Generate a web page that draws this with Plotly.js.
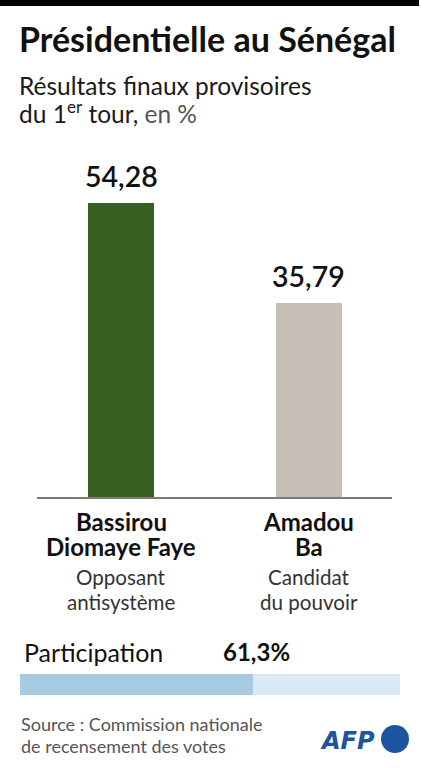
<!DOCTYPE html>
<html>
<head>
<meta charset="utf-8">
<script src="https://cdn.plot.ly/plotly-3.0.1.min.js"></script>
<style>html,body{margin:0;padding:0;background:#fff;}#chart{width:421px;height:768px;}</style>
</head>
<body>
<div id="chart"></div>
<script>
// ---- data ----
const candidates = ["Bassirou<br>Diomaye Faye", "Amadou<br>Ba"];
const descriptions = ["Opposant<br>antisystème", "Candidat<br>du pouvoir"];
const results = [54.28, 35.79];
const barColors = ["#3a6021", "#c5bfb5"];
const participationLabel = "Participation";
const participation = [61.3];
const participationTotal = [100];
const titleText = "Présidentielle au Sénégal";
const subtitleLines = ["Résultats finaux provisoires", "du 1<sup>er</sup> tour,<span style='color:#555'> en %</span>"];
const sourceLines = ["Source : Commission nationale", "de recensement des votes"];

// ---- layout helpers (pixel -> paper) ----
const W = 421, H = 768;
const L = 20, R = 21, T = 172, B = 73;
const PW = W - L - R, PH = H - T - B;
const px = x => (x - L) / PW;
const py = y => (H - B - y) / PH;
const FONT = "Lato, 'Noto Sans', sans-serif";

const fmt = v => v.toFixed(2).replace('.', ',');

const traces = [
  {
    type: 'bar', x: candidates, y: results, width: 0.352,
    marker: {color: barColors, line: {width: 0}},
    xaxis: 'x', yaxis: 'y', hoverinfo: 'skip'
  },
  {
    type: 'bar', orientation: 'h', x: participationTotal, y: [0], width: 1,
    marker: {color: '#dbe9f5', line: {width: 0}}, xaxis: 'x2', yaxis: 'y2', hoverinfo: 'skip'
  },
  {
    type: 'bar', orientation: 'h', x: participation, y: [0], width: 1,
    marker: {color: '#a6cbe3', line: {width: 0}}, xaxis: 'x2', yaxis: 'y2', hoverinfo: 'skip'
  }
];

const ann = [];
const mid = (baseline, size) => baseline - 0.3 * size;

// title
ann.push({xref:'paper', yref:'paper', x: px(17), y: py(mid(49, 34)), xanchor:'left', yanchor:'middle',
  text: '<b>' + titleText + '</b>', showarrow:false, font:{family:FONT, size:34, color:'#111'}});
// subtitle
[93, 119].forEach((b, i) => ann.push({xref:'paper', yref:'paper', x: px(17), y: py(mid(b, 24.5)), xanchor:'left', yanchor:'middle',
  text: subtitleLines[i], showarrow:false, font:{family:FONT, size:24.5, color:'#1a1a1a'}}));

// value labels
results.forEach((v, i) => ann.push({xref:'x', yref:'y', x: candidates[i], y: v, xanchor:'center', yanchor:'bottom', yshift: 8,
  text: fmt(v), showarrow:false, font:{family:FONT, size:28.5, color:'#111', weight: 600}}));

// candidate names & descriptions
candidates.forEach((c, i) => {
  c.split('<br>').forEach((line, j) => ann.push({xref:'x', yref:'paper', x: c, y: py(mid(529 + 25*j, 24)), xanchor:'center', yanchor:'middle',
    text: '<b>' + line + '</b>', showarrow:false, font:{family:FONT, size:24, color:'#111'}}));
  descriptions[i].split('<br>').forEach((line, j) => ann.push({xref:'x', yref:'paper', x: c, y: py(mid(583 + 25*j, 20.6)), xanchor:'center', yanchor:'middle',
    text: line, showarrow:false, font:{family:FONT, size:20.6, color:'#333'}}));
});

// participation
ann.push({xref:'paper', yref:'paper', x: px(22), y: py(mid(659, 25)), xanchor:'left', yanchor:'middle',
  text: participationLabel, showarrow:false, font:{family:FONT, size:25, color:'#111'}});
ann.push({xref:'paper', yref:'paper', x: px(221), y: py(mid(659, 24)), xanchor:'left', yanchor:'middle',
  text: '<b>' + participation[0].toFixed(1).replace('.', ',') + '%</b>', showarrow:false, font:{family:FONT, size:24, color:'#111'}});

// source
[729, 751].forEach((b, i) => ann.push({xref:'paper', yref:'paper', x: px(19), y: py(mid(b, 18)), xanchor:'left', yanchor:'middle',
  text: sourceLines[i], showarrow:false, font:{family:FONT, size:18, color:'#555'}}));

// AFP logo text
ann.push({xref:'paper', yref:'paper', x: px(318), y: py(mid(748, 24)), xanchor:'left', yanchor:'middle',
  text: '<b><i>AFP</i></b>', showarrow:false, font:{family:"'DejaVu Sans', sans-serif", size:24, color:'#1b54a0'}});

const layout = {
  width: W, height: H,
  margin: {l: L, r: R, t: T, b: B, pad: 0},
  paper_bgcolor: '#fff', plot_bgcolor: 'rgba(0,0,0,0)',
  showlegend: false, barmode: 'overlay', bargap: 0,
  xaxis: {domain: [px(37), px(392)], type: 'category', range: [-0.448, 1.445], showline: true, linecolor: '#7a7a7a', linewidth: 1.5,
    showticklabels: false, ticks: '', showgrid: false, zeroline: false, fixedrange: true, anchor: 'y'},
  yaxis: {domain: [py(497), 1], range: [0, 60], visible: false, fixedrange: true, anchor: 'x'},
  xaxis2: {domain: [0, 1], range: [0, 100], visible: false, fixedrange: true, anchor: 'y2'},
  yaxis2: {domain: [0, py(674)], range: [-0.5, 0.5], visible: false, fixedrange: true, anchor: 'x2'},
  annotations: ann,
  shapes: [
    {type:'rect', xref:'paper', yref:'paper', x0: px(0), x1: px(419), y0: py(6), y1: py(0), fillcolor:'#000', line:{width:0}},
    {type:'circle', xref:'paper', yref:'paper', x0: px(381), x1: px(409), y0: py(753), y1: py(725), fillcolor:'#1b54a0', line:{width:0}}
  ]
};

Plotly.newPlot('chart', traces, layout, {displayModeBar: false, staticPlot: true});
</script>
</body>
</html>
